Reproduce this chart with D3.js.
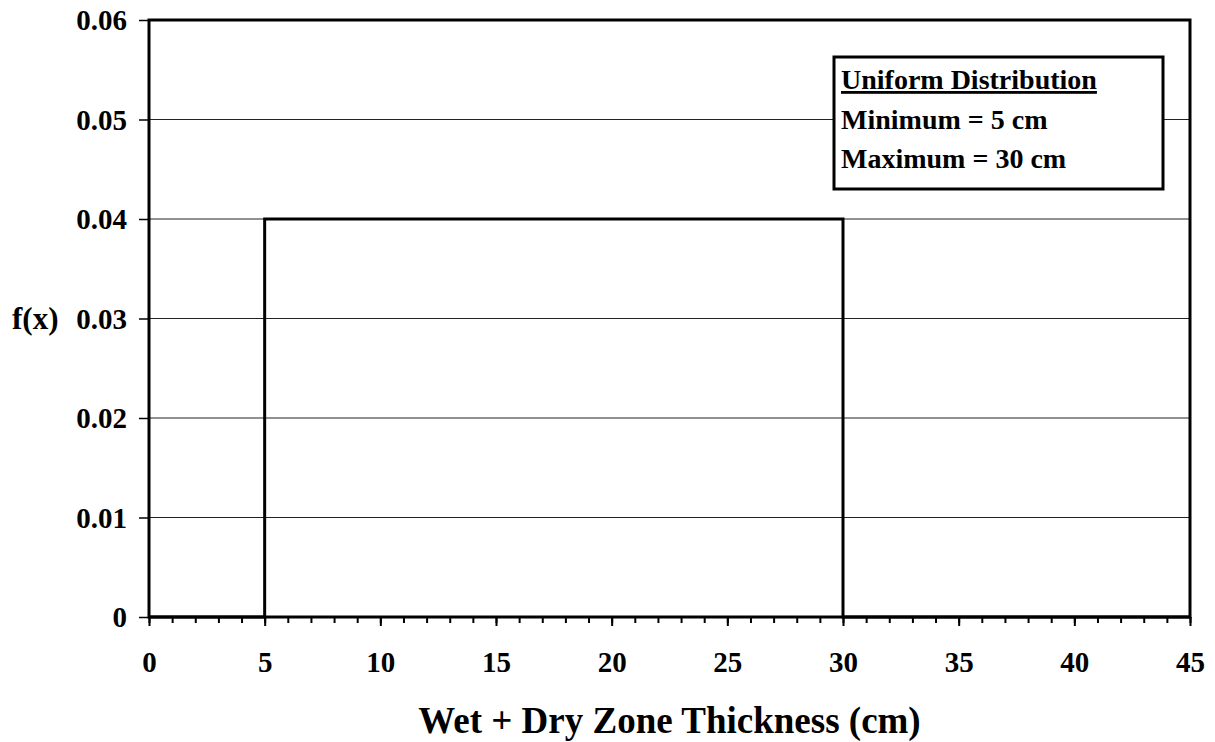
<!DOCTYPE html>
<html>
<head>
<meta charset="utf-8">
<script src="https://cdn.jsdelivr.net/npm/d3@7"></script>
<style>
  body { margin: 0; background: #fff; }
  text { font-family: "Liberation Serif", "Times New Roman", serif; font-weight: bold; fill: #000; }
</style>
</head>
<body>
<div id="chart"></div>
<script>
// uniform pdf, min 5 max 30
const xVals = [0, 5, 5, 30, 30, 45];
const fVals = [0, 0, 0.04, 0.04, 0, 0];
const xTicks = [0, 5, 10, 15, 20, 25, 30, 35, 40, 45];
const yTicks = [0, 0.01, 0.02, 0.03, 0.04, 0.05, 0.06];
const legendLines = ['Uniform Distribution', 'Minimum = 5 cm', 'Maximum = 30 cm'];

const width = 1215;
const height = 742;
const margin = { top: 20, right: 25, bottom: 125, left: 149 };

const svg = d3.select('#chart')
  .append('svg')
  .attr('width', width)
  .attr('height', height);

const x = d3.scaleLinear()
  .domain([0, 45])
  .range([margin.left, width - margin.right]);

const y = d3.scaleLinear()
  .domain([0, 0.06])
  .range([height - margin.bottom, margin.top]);

// gridlines
svg.append('g')
  .selectAll('line')
  .data(yTicks.slice(1, -1))
  .join('line')
    .attr('x1', x(0))
    .attr('x2', x(45))
    .attr('y1', d => y(d))
    .attr('y2', d => y(d))
    .attr('stroke', '#222')
    .attr('stroke-width', 1);

// y axis
const yAxis = svg.append('g')
  .attr('transform', `translate(${x(0)},0)`)
  .call(d3.axisLeft(y).tickValues(yTicks).tickSize(10).tickFormat(d => d === 0 ? '0' : d3.format('.2f')(d)));
yAxis.select('.domain').remove();
yAxis.selectAll('line').attr('stroke', '#000').attr('stroke-width', 1.5);
yAxis.selectAll('text').attr('font-size', 29).attr('x', -22).attr('dy', '0.33em');

// x axis minor ticks
const xMinor = svg.append('g')
  .attr('transform', `translate(0,${y(0)})`)
  .call(d3.axisBottom(x).tickValues(d3.range(0, 46, 1)).tickSize(6).tickFormat(''));
xMinor.select('.domain').remove();
xMinor.selectAll('line').attr('stroke', '#000').attr('stroke-width', 2);

const xAxis = svg.append('g')
  .attr('transform', `translate(0,${y(0)})`)
  .call(d3.axisBottom(x).tickValues(xTicks).tickSize(9).tickPadding(0));
xAxis.select('.domain').remove();
xAxis.selectAll('line').attr('stroke', '#000').attr('stroke-width', 2);
xAxis.selectAll('text').attr('font-size', 29).attr('y', 55).attr('dy', 0);

// plot frame
svg.append('rect')
  .attr('x', x(0))
  .attr('y', y(0.06))
  .attr('width', x(45) - x(0))
  .attr('height', y(0) - y(0.06))
  .attr('fill', 'none')
  .attr('stroke', '#000')
  .attr('stroke-width', 3);

// pdf line
const line = d3.line()
  .x((d, i) => x(xVals[i]))
  .y(d => y(d));

svg.append('path')
  .datum(fVals)
  .attr('d', line)
  .attr('fill', 'none')
  .attr('stroke', '#000')
  .attr('stroke-width', 3);

// legend box
const lg = svg.append('g').attr('transform', 'translate(834,57)');
lg.append('rect')
  .attr('width', 329)
  .attr('height', 132)
  .attr('fill', '#fff')
  .attr('stroke', '#000')
  .attr('stroke-width', 3);
lg.selectAll('text')
  .data(legendLines)
  .join('text')
    .attr('x', 7)
    .attr('y', (d, i) => 32 + i * 39.5)
    .attr('font-size', 28)
    .attr('text-decoration', (d, i) => i === 0 ? 'underline' : null)
    .text(d => d);

// axis titles
svg.append('text')
  .attr('x', 12)
  .attr('y', y(0.03))
  .attr('dy', '0.33em')
  .attr('font-size', 31)
  .text('f(x)');

svg.append('text')
  .attr('x', (x(0) + x(45)) / 2)
  .attr('y', 733)
  .attr('text-anchor', 'middle')
  .attr('font-size', 37)
  .text('Wet + Dry Zone Thickness (cm)');
</script>
</body>
</html>
